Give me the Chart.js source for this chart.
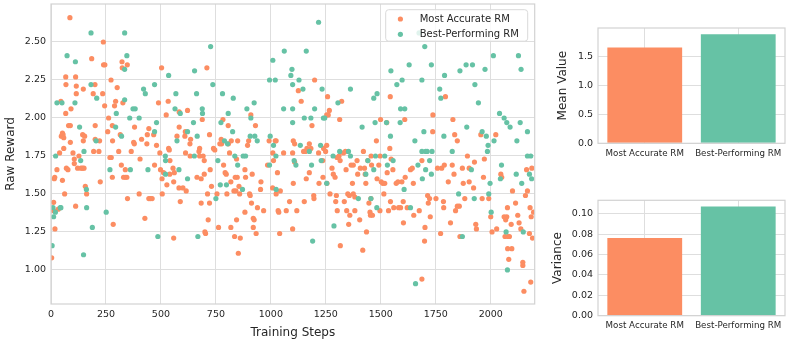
<!DOCTYPE html>
<html><head><meta charset="utf-8">
<script src="https://cdn.jsdelivr.net/npm/chart.js@4.4.1/dist/chart.umd.min.js"></script>
<style>
html,body{margin:0;padding:0;background:#fff;width:789px;height:344px;overflow:hidden;}
canvas{position:absolute;}
#c1{left:0;top:0;width:540px;height:344px;}
#c2{left:540px;top:0;width:249px;height:172px;}
#c3{left:540px;top:172px;width:249px;height:172px;}
</style></head><body>
<canvas id="c1" width="540" height="344"></canvas>
<canvas id="c2" width="249" height="172"></canvas>
<canvas id="c3" width="249" height="172"></canvas>
<script>
// ---------- DATA ----------
const seriesNames = ['Most Accurate RM', 'Best-Performing RM'];
// [training step, raw reward]
const accuratePoints = [
[3,1.08],[12,1.445],[12,1.39],[15,1.60],[17,1.61],[18,1.27],[27,1.66],[33,1.40],[39,1.77],[45,2.11],
[47,1.88],[52,1.90],[55,1.89],[58,1.87],[52,1.59],[58,1.80],[62,1.50],[67,2.27],[68,2.22],[67,2.03],
[70,1.67],[77,1.66],[80,1.95],[88,1.95],[86,2.66],[88,1.84],[91,2.06],[100,1.77],[106,1.73],[106,1.70],
[112,2.27],[115,2.21],[115,2.16],[112,1.42],[121,1.67],[127,1.75],[136,1.67],[143,1.67],[150,1.67],[144,1.89],
[147,1.85],[153,1.88],[147,2.19],[156,1.55],[162,1.50],[185,2.39],[192,2.16],[200,2.22],[201,1.95],[201,1.86],
[194,1.78],[218,1.78],[221,1.85],[224,1.58],[235,2.16],[238,2.50],[239,2.35],[245,2.35],[244,2.08],[258,1.91],
[262,2.00],[268,1.74],[274,1.74],[273,2.25],[279,1.95],[280,1.85],[279,1.61],[283,1.30],[289,2.08],[294,2.11],
[301,2.20],[308,1.78],[315,1.89],[320,1.69],[323,2.37],[324,2.33],[327,2.10],[330,1.61],[338,1.61],[345,1.61],
[338,1.66],[347,2.35],[348,1.47],[365,1.78],[376,1.84],[379,1.83],[380,1.94],[401,1.50],[405,1.73],[412,1.86],
[427,1.34],[436,1.83],[438,1.89],[445,1.93],[445,1.47],[452,1.47],[460,1.47],[467,1.89],[471,1.69],[480,1.82],
[489,2.10],[495,1.77],[498,1.66],[503,2.33],[505,1.60],[506,1.50],[512,1.64],[524,2.02],[527,1.56],[533,2.11],
[535,1.80],[538,1.79],[540,1.63],[541,1.72],[555,1.67],[558,1.21],[558,1.58],[561,1.64],[573,1.88],[583,2.04],
[583,1.94],[582,1.54],[588,1.45],[600,1.54],[609,1.88],[611,1.91],[612,1.77],[615,1.52],[621,2.05],[632,1.83],
[633,1.75],[635,1.86],[664,1.61],[673,1.78],[676,1.75],[676,1.80],[683,1.44],[683,1.60],[688,1.99],[692,1.75],
[697,1.72],[697,1.63],[700,1.25],[703,1.24],[709,2.33],[712,1.50],[715,1.33],[721,1.89],[721,1.44],[724,1.66],
[730,1.55],[739,1.80],[745,1.79],[755,1.50],[762,1.28],[768,1.83],[776,1.83],[774,1.86],[782,1.99],[785,1.69],
[792,1.64],[797,1.63],[800,1.50],[806,1.95],[807,1.83],[812,1.77],[818,1.58],[818,1.28],[820,1.85],[832,1.52],
[835,1.22],[838,1.61],[841,1.52],[844,1.33],[844,1.73],[849,1.85],[847,1.61],[852,1.11],[855,1.55],[858,1.50],
[861,1.21],[882,1.38],[882,1.66],[885,1.61],[894,1.82],[899,1.85],[903,1.50],[906,1.49],[909,2.02],[915,1.63],
[912,1.44],[920,1.34],[924,1.33],[920,1.28],[930,1.95],[933,1.24],[939,1.41],[953,1.53],[955,1.58],[967,1.39],
[985,1.69],[992,1.85],[1008,1.54],[1009,1.77],[1012,1.72],[1020,1.85],[1024,1.85],[1024,1.50],[1030,1.64],[1033,1.39],
[1036,1.38],[1040,1.24],[1043,1.52],[1058,1.77],[1070,1.39],[1085,1.45],[1099,1.77],[1099,1.27],[1102,1.85],[1108,1.83],
[1102,1.57],[1108,1.71],[1118,1.39],[1125,2.18],[1138,2.11],[1149,1.78],[1157,1.78],[1152,1.45],[1161,1.60],[1164,1.80],
[1175,1.83],[1175,1.64],[1182,1.80],[1187,1.95],[1195,1.49],[1196,1.47],[1199,2.25],[1217,1.77],[1219,1.57],[1236,1.72],
[1237,1.61],[1240,1.80],[1249,1.78],[1254,1.82],[1254,2.02],[1258,2.14],[1261,2.02],[1266,2.05],[1255,1.57],[1269,1.50],
[1278,1.67],[1284,1.63],[1292,1.61],[1295,1.45],[1298,1.49],[1301,1.74],[1302,1.39],[1310,1.75],[1315,1.72],[1313,1.99],
[1316,1.16],[1322,2.11],[1330,1.77],[1339,1.78],[1334,1.45],[1342,1.66],[1345,1.39],[1350,1.50],[1357,1.49],[1354,1.30],
[1359,1.36],[1365,1.69],[1371,1.57],[1375,1.69],[1375,1.50],[1382,1.48],[1382,1.39],[1392,1.72],[1395,1.63],[1404,1.33],
[1407,1.67],[1418,1.13],[1421,1.78],[1426,1.67],[1429,1.63],[1432,1.57],[1435,1.25],[1441,1.72],[1446,1.44],[1451,1.38],
[1453,1.36],[1458,1.69],[1456,1.75],[1462,1.36],[1455,1.47],[1480,1.85],[1483,1.60],[1491,1.69],[1496,1.39],[1497,1.75],
[1499,1.99],[1502,1.58],[1509,1.57],[1518,1.57],[1514,1.50],[1527,1.97],[1529,1.64],[1535,1.39],[1541,1.80],[1544,1.45],
[1543,2.14],[1547,1.73],[1555,1.66],[1559,1.41],[1570,1.57],[1578,1.58],[1581,1.41],[1590,1.41],[1596,1.58],[1602,1.45],
[1603,1.31],[1609,1.99],[1611,1.61],[1620,1.41],[1635,1.66],[1643,1.67],[1648,1.57],[1650,1.36],[1675,1.39],[1687,1.72],
[1687,0.94],[1701,1.28],[1699,1.19],[1713,1.49],[1716,1.44],[1722,1.47],[1725,1.35],[1736,1.91],[1737,2.02],[1751,1.47],
[1758,1.67],[1772,1.24],[1777,1.67],[1785,1.45],[1786,1.41],[1789,1.69],[1794,2.14],[1807,1.58],[1817,1.31],[1825,1.69],
[1828,1.99],[1833,1.63],[1836,1.89],[1840,1.39],[1848,1.85],[1848,1.42],[1857,1.42],[1860,1.22],[1871,1.67],[1875,1.57],
[1882,1.47],[1894,1.75],[1902,1.58],[1902,1.67],[1922,1.54],[1926,1.71],[1932,1.30],[1935,1.27],[1955,1.89],[1961,1.47],
[1967,1.61],[1971,1.73],[1991,1.47],[2000,1.35],[2006,1.25],[2023,1.89],[2027,1.27],[2046,1.63],[2050,1.61],[2061,1.35],
[2068,1.33],[2073,1.35],[2065,1.22],[2079,1.22],[2085,1.22],[2076,1.41],[2077,1.14],[2096,1.14],[2082,1.07],[2093,1.30],
[2099,1.52],[2113,1.44],[2123,1.36],[2129,1.31],[2137,1.27],[2146,1.05],[2146,1.03],[2151,0.86],[2158,1.49],[2163,1.66],
[2167,1.52],[2176,1.24],[2179,1.41],[2184,1.35],[2182,0.92],[2187,1.67],[2190,1.21],[2195,1.38]
];
const bestPoints = [
[5,1.16],[9,1.41],[12,1.35],[20,1.38],[21,1.75],[27,2.10],[42,1.41],[45,1.41],[50,2.10],[73,2.41],
[109,2.10],[111,2.37],[130,1.94],[135,1.72],[148,1.10],[150,1.78],[161,1.53],[162,1.41],[182,2.56],[182,2.22],
[188,1.28],[205,1.85],[208,2.13],[251,1.38],[268,1.66],[294,1.94],[297,2.03],[321,1.88],[335,2.32],[335,2.56],
[335,2.12],[345,2.41],[358,2.00],[361,1.66],[373,2.06],[383,2.06],[401,2.00],[421,2.19],[429,2.16],[441,1.66],
[471,1.91],[471,2.22],[480,1.97],[486,1.22],[520,1.75],[521,1.72],[521,1.63],[535,2.28],[564,2.06],[568,2.16],
[573,1.85],[588,2.03],[582,1.66],[621,1.60],[621,1.91],[648,1.97],[652,1.75],[653,2.31],[665,1.88],[662,2.16],
[668,1.22],[688,2.06],[689,2.03],[726,2.47],[736,2.22],[750,1.47],[759,1.72],[770,1.56],[773,1.97],[780,2.16],
[789,1.85],[798,1.56],[803,1.83],[806,2.03],[829,2.13],[826,1.91],[836,1.75],[849,1.69],[871,1.53],[874,1.75],
[885,1.75],[891,2.06],[909,2.00],[906,1.88],[924,2.10],[927,1.88],[938,1.85],[994,1.69],[997,1.88],[994,2.25],
[1009,2.38],[1012,1.82],[1020,2.25],[1024,1.53],[1023,1.75],[1058,2.06],[1061,2.44],[1091,2.28],[1096,2.32],[1099,2.06],
[1099,1.97],[1099,2.22],[1106,1.72],[1114,1.69],[1128,2.25],[1134,1.82],[1146,2.19],[1152,2.00],[1161,2.44],[1175,1.78],
[1182,2.00],[1185,1.69],[1190,1.19],[1199,2.06],[1217,2.63],[1226,1.82],[1229,1.72],[1233,2.19],[1239,2.00],[1245,2.00],
[1254,1.57],[1283,1.75],[1287,1.29],[1305,2.10],[1313,1.78],[1353,1.78],[1362,1.75],[1362,2.19],[1398,1.47],[1415,1.94],
[1432,1.63],[1441,1.72],[1455,1.47],[1468,1.66],[1468,2.13],[1474,1.97],[1476,1.75],[1483,2.16],[1482,1.41],[1518,1.75],
[1526,1.97],[1530,1.69],[1544,1.88],[1546,2.31],[1556,1.72],[1573,2.22],[1588,1.97],[1590,2.06],[1609,2.06],[1597,2.25],
[1606,1.53],[1629,2.35],[1635,1.41],[1655,1.85],[1658,0.91],[1669,1.69],[1674,2.56],[1687,1.78],[1704,1.78],[1711,1.78],
[1733,1.78],[1687,2.25],[1689,1.60],[1696,1.91],[1700,2.47],[1704,1.66],[1722,1.72],[1730,2.35],[1730,1.63],[1768,2.19],
[1773,2.13],[1787,1.88],[1790,2.28],[1825,1.78],[1854,1.50],[1860,2.31],[1871,1.22],[1888,2.35],[1891,1.94],[1912,1.66],
[1917,2.35],[1925,1.47],[1928,2.22],[1944,2.10],[1961,1.91],[1974,2.32],[1980,1.88],[1985,1.78],[1988,1.82],[1991,1.50],
[1997,1.57],[2002,1.38],[2012,2.41],[2015,1.85],[2040,2.03],[2049,1.69],[2044,1.60],[2061,2.00],[2070,1.25],[2073,1.97],
[2076,1.00],[2088,1.94],[2116,1.63],[2119,1.85],[2126,2.41],[2134,1.97],[2138,2.32],[2141,1.57],[2148,1.25],[2167,1.91],
[2167,1.75],[2182,1.75],[2176,1.63],[2186,1.60]
];
const meanValues = [1.648, 1.879];
const varianceValues = [0.0761, 0.1072];
const stepTicks = [0, 250, 500, 750, 1000, 1250, 1500, 1750, 2000];
const rewardTicks = [1.00, 1.25, 1.50, 1.75, 2.00, 2.25, 2.50];
const meanTicks = [0.0, 0.5, 1.0, 1.5];
const varianceTicks = [0.00, 0.02, 0.04, 0.06, 0.08, 0.10];

// ---------- STYLE ----------
const FONT = "'DejaVu Sans', sans-serif";
const TXT = '#262626';
const GRID = '#dedede';
const EDGE = '#d2d2d2';
const ORANGE = '#fc8d62';
const GREEN = '#66c2a5';

const frame = {
  id: 'frame',
  afterDatasetsDraw(chart) {
    const {ctx, chartArea: a} = chart;
    ctx.save();
    ctx.strokeStyle = EDGE; ctx.lineWidth = 1.2;
    ctx.strokeRect(a.left, a.top, a.right - a.left, a.bottom - a.top);
    ctx.restore();
  }
};
const legendBox = {
  id: 'legendBox',
  afterDraw(chart) {
    const {ctx, chartArea: a} = chart;
    const w = 142, h = 31.5, x = a.right - w - 7, y = a.top + 5.7;
    ctx.save();
    ctx.beginPath();
    ctx.roundRect(x, y, w, h, 3);
    ctx.fillStyle = 'rgba(255,255,255,0.8)'; ctx.fill();
    ctx.strokeStyle = '#d9d9d9'; ctx.lineWidth = 1; ctx.stroke();
    ctx.font = '10px ' + FONT; ctx.textBaseline = 'middle';
    chart.data.datasets.slice().sort((p, q) => p.legendIndex - q.legendIndex).forEach((ds, i) => {
      const cy = y + 9.3 + i * 15.3;
      ctx.beginPath(); ctx.arc(x + 14.7, cy, 2.6, 0, Math.PI * 2);
      ctx.fillStyle = ds.backgroundColor; ctx.fill();
      ctx.fillStyle = TXT; ctx.fillText(ds.label, x + 34, cy);
    });
    ctx.restore();
  }
};

function fixTicks(list) { return s => { s.ticks = list.map(v => ({value: v})); }; }
function fitW(w) { return s => { s.width = w; s.paddingTop = 0; s.paddingBottom = 0; }; }
function fitH(h) { return s => { s.height = h; s.paddingLeft = 0; s.paddingRight = 0; }; }

// ---------- SCATTER ----------
new Chart(document.getElementById('c1'), {
  type: 'scatter',
  data: {
    datasets: [
      {label: seriesNames[1], legendIndex: 1, order: 0, data: bestPoints.map(p => ({x: p[0], y: p[1]})),
       backgroundColor: GREEN, borderWidth: 0, pointRadius: 2.6},
      {label: seriesNames[0], legendIndex: 0, order: 1, data: accuratePoints.map(p => ({x: p[0], y: p[1]})),
       backgroundColor: ORANGE, borderWidth: 0, pointRadius: 2.6}
    ]
  },
  options: {
    responsive: false, animation: false,
    layout: {padding: {left: 0, right: 5.3, top: 4, bottom: 0}},
    plugins: {legend: {display: false}, tooltip: {enabled: false}},
    scales: {
      x: {
        type: 'linear', min: 0, max: 2200,
        afterBuildTicks: fixTicks(stepTicks), afterFit: fitH(40),
        grid: {color: GRID, lineWidth: 1, drawTicks: false},
        border: {display: false},
        ticks: {color: TXT, font: {family: FONT, size: 9.5}, padding: 5, maxRotation: 0, callback: v => String(v)},
        title: {display: true, text: 'Training Steps', color: TXT, font: {family: FONT, size: 12}, padding: {top: 0, bottom: 4}}
      },
      y: {
        type: 'linear', min: 0.776, max: 2.75,
        afterBuildTicks: fixTicks(rewardTicks), afterFit: fitW(51),
        grid: {color: GRID, lineWidth: 1, drawTicks: false},
        border: {display: false},
        ticks: {color: TXT, font: {family: FONT, size: 9.5}, padding: 5, callback: v => Number(v).toFixed(2)},
        title: {display: true, text: 'Raw Reward', color: TXT, font: {family: FONT, size: 12}, padding: {top: 4, bottom: 0}}
      }
    }
  },
  plugins: [frame, legendBox]
});

// ---------- BARS ----------
function barChart(id, values, yMax, ticks, digits, title, titlePad, top, xH) {
  new Chart(document.getElementById(id), {
    type: 'bar',
    data: {labels: seriesNames, datasets: [{data: values, backgroundColor: [ORANGE, GREEN], borderWidth: 0,
      barPercentage: 0.8, categoryPercentage: 1}]},
    options: {
      responsive: false, animation: false,
      layout: {padding: {left: 0, right: 4, top: top, bottom: 0}},
      plugins: {legend: {display: false}, tooltip: {enabled: false}},
      scales: {
        x: {
          type: 'category', offset: true, afterFit: fitH(xH),
          grid: {color: GRID, lineWidth: 1, drawTicks: false, offset: false},
          border: {display: false},
          ticks: {color: TXT, font: {family: FONT, size: 8.7}, padding: 5, maxRotation: 0, autoSkip: false}
        },
        y: {
          min: 0, max: yMax, afterBuildTicks: fixTicks(ticks), afterFit: fitW(58),
          grid: {color: GRID, lineWidth: 1, drawTicks: false},
          border: {display: false},
          ticks: {color: TXT, font: {family: FONT, size: 9.5}, padding: 5, callback: v => Number(v).toFixed(digits)},
          title: {display: true, text: title, color: TXT, font: {family: FONT, size: 12}, padding: {top: titlePad, bottom: 0}}
        }
      }
    },
    plugins: [frame]
  });
}
barChart('c2', meanValues, 1.985, meanTicks, 1, 'Mean Value', 15.5, 28, 28.7);
barChart('c3', varianceValues, 0.1132, varianceTicks, 2, 'Variance', 10.5, 28.3, 28.3);
</script>
</body></html>
